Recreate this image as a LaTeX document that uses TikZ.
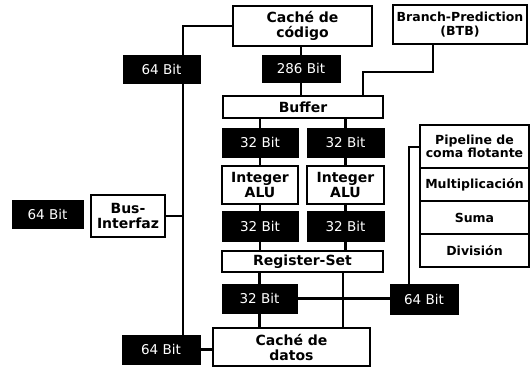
\documentclass[tikz,border=0pt]{standalone}
\usepackage{fontspec}
\setmainfont{DejaVu Sans}
\usetikzlibrary{backgrounds}
\tikzset{
  wbox/.style={draw=black, fill=white, line width=1.8pt, inner sep=0pt, align=center, font=\bfseries\fontsize{14}{15}\selectfont},
  sbox/.style={wbox, minimum width=109pt, font=\bfseries\fontsize{12.5}{13.5}\selectfont},
  kbox/.style={draw=black, fill=black, line width=1pt, inner sep=0pt, text=white, font=\fontsize{13.5}{15}\selectfont},
  conn/.style={line width=2.8pt, draw=black}
}
\begin{document}
\begin{tikzpicture}[x=1pt,y=-1pt]
\useasboundingbox (0,0) rectangle (531,368);
% white boxes
\node[wbox, minimum width=139pt, minimum height=40pt] (cc) at (302.5,26) {Caché de\\código};
\node[wbox, minimum width=134pt, minimum height=39pt, font=\bfseries\fontsize{12.5}{14}\selectfont] (btb) at (460,24.5) {Branch-Prediction\\(BTB)};
\node[wbox, minimum width=160pt, minimum height=22pt] (buf) at (303,107) {Buffer};
\node[wbox, minimum width=76pt, minimum height=38pt] (alua) at (260,185) {Integer\\ALU};
\node[wbox, minimum width=77pt, minimum height=38pt] (alub) at (345.5,185) {Integer\\ALU};
\node[wbox, minimum width=161pt, minimum height=21pt] (reg) at (302.5,261.5) {Register-Set};
\node[wbox, minimum width=157pt, minimum height=38pt] (cd) at (291.5,347) {Caché de\\datos};
\node[wbox, minimum width=74pt, minimum height=42pt] (bus) at (128,216) {Bus-\\Interfaz};
% pipeline stack
\node[sbox, minimum height=43pt] (p1) at (474.5,146.5) {Pipeline de\\coma flotante};
\node[sbox, minimum height=33pt] (p2) at (474.5,184.5) {Multiplicación};
\node[sbox, minimum height=33pt] (p3) at (474.5,217.5) {Suma};
\node[sbox, minimum height=33pt] (p4) at (474.5,250.5) {División};
% black boxes
\node[kbox, minimum width=77pt, minimum height=28pt] (b64a) at (161.5,69) {64 Bit};
\node[kbox, minimum width=78pt, minimum height=27pt] (b286) at (301,68.5) {286 Bit};
\node[kbox, minimum width=76pt, minimum height=29pt] (b32a) at (260,142.5) {32 Bit};
\node[kbox, minimum width=77pt, minimum height=29pt] (b32b) at (345.5,142.5) {32 Bit};
\node[kbox, minimum width=76pt, minimum height=30pt] (b32c) at (260,226.5) {32 Bit};
\node[kbox, minimum width=77pt, minimum height=30pt] (b32d) at (345.5,226.5) {32 Bit};
\node[kbox, minimum width=75pt, minimum height=29pt] (b32e) at (259.5,298.5) {32 Bit};
\node[kbox, minimum width=68pt, minimum height=30pt] (b64d) at (424,299) {64 Bit};
\node[kbox, minimum width=78pt, minimum height=29pt] (b64c) at (161,349.5) {64 Bit};
\node[kbox, minimum width=71pt, minimum height=28pt] (b64b) at (47.5,214) {64 Bit};
% junction coordinates
\coordinate (bustop) at (183,26);
\coordinate (bt1) at (433,72);
\coordinate (bt2) at (363,72);
\coordinate (rcx) at (343,280);
\coordinate (pk) at (409,147);
\begin{scope}[on background layer]
\draw[conn] (cc.west) -- (bustop) -- (bustop |- b64c.north);
\draw[conn] (bus.east) -- (bus.east -| bustop);
\draw[conn] (b286.north) -- (b286.north |- cc.south);
\draw[conn] (b286.south) -- (b286.south |- buf.north);
\draw[conn] (btb.south -| bt1) -- (bt1) -- (bt2) -- (bt2 |- buf.north);
\draw[conn] (b32a.north) -- (b32a.north |- buf.south);
\draw[conn] (b32b.north) -- (b32b.north |- buf.south);
\draw[conn] (b32a.south) -- (alua.north);
\draw[conn] (b32b.south) -- (alub.north);
\draw[conn] (alua.south) -- (b32c.north);
\draw[conn] (alub.south) -- (b32d.north);
\draw[conn] (b32c.south) -- (b32c.south |- reg.north);
\draw[conn] (b32d.south) -- (b32d.south |- reg.north);
\draw[conn] (b32e.north) -- (b32e.north |- reg.south);
\draw[conn] (b32e.south) -- (b32e.south |- cd.north);
\draw[conn] (reg.south -| rcx) -- (cd.north -| rcx);
\draw[conn] (b32e.east) -- (b32e.east -| b64d.west);
\draw[conn] (b64d.north -| pk) -- (pk) -- (pk -| p1.west);
\draw[conn] (b64c.east) -- (b64c.east -| cd.west);
\end{scope}
\end{tikzpicture}
\end{document}
